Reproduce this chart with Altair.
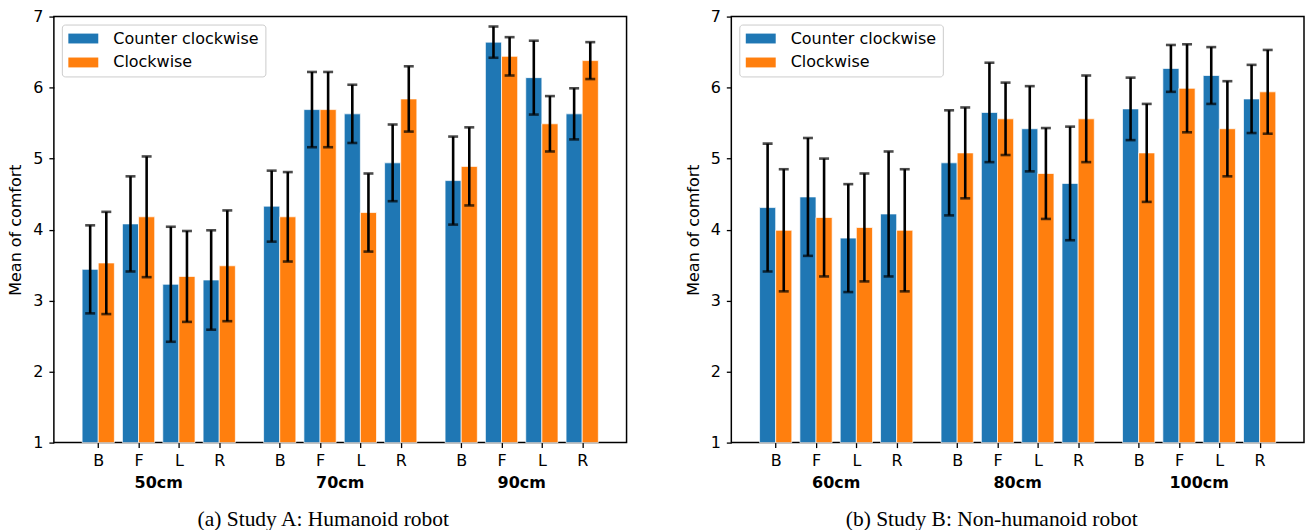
import json
import altair as alt
import pandas as pd

# ---------------- data ----------------
categories = ["B", "F", "L", "R"]
series = ["Counter clockwise", "Clockwise"]
colors = ["#1f77b4", "#ff7f0e"]

groups_a = ["50cm", "70cm", "90cm"]
mean_a_ccw = [3.44, 4.08, 3.23, 3.29, 4.33, 5.69, 5.63, 4.94, 4.69, 6.64, 6.14, 5.63]
err_a_ccw = [0.62, 0.67, 0.81, 0.70, 0.50, 0.53, 0.41, 0.54, 0.62, 0.22, 0.52, 0.36]
mean_a_cw = [3.53, 4.18, 3.34, 3.49, 4.18, 5.69, 4.24, 5.84, 4.89, 6.44, 5.49, 6.38]
err_a_cw = [0.72, 0.85, 0.64, 0.78, 0.63, 0.53, 0.55, 0.46, 0.55, 0.27, 0.39, 0.26]

groups_b = ["60cm", "80cm", "100cm"]
mean_b_ccw = [4.31, 4.46, 3.88, 4.22, 4.94, 5.65, 5.42, 4.65, 5.70, 6.27, 6.17, 5.84]
err_b_ccw = [0.90, 0.83, 0.76, 0.88, 0.74, 0.70, 0.60, 0.80, 0.44, 0.33, 0.40, 0.48]
mean_b_cw = [3.99, 4.17, 4.03, 3.99, 5.08, 5.56, 4.79, 5.56, 5.08, 5.99, 5.42, 5.94]
err_b_cw = [0.86, 0.83, 0.76, 0.86, 0.64, 0.51, 0.64, 0.61, 0.69, 0.62, 0.67, 0.59]

caption_a = "(a) Study A: Humanoid robot"
caption_b = "(b) Study B: Non-humanoid robot"
y_title = "Mean of comfort"

# ---------------- layout constants ----------------
GROUP_STEP = 4.5
BAR_W = 0.4
PLOT_W = 574
PLOT_H = 427
FONT = "DejaVu Sans"
FS = 16


def panel(groups, m_ccw, e_ccw, m_cw, e_cw, caption, cap_dx):
    rows = []
    for gi, g in enumerate(groups):
        for ci, c in enumerate(categories):
            k = gi * len(categories) + ci
            pos = gi * GROUP_STEP + ci
            for si, (m, e) in enumerate([(m_ccw[k], e_ccw[k]), (m_cw[k], e_cw[k])]):
                rows.append(dict(group=g, cat=c, series=series[si], pos=pos,
                                 off=si, mean=m, err=e))
    df = pd.DataFrame(rows)
    tick_vals = sorted(set(df["pos"]))
    lab_df = pd.DataFrame({
        "group": groups,
        "gx": [i * GROUP_STEP + (len(categories) - 1) / 2 for i in range(len(groups))],
    })
    label_expr = f"{json.dumps(categories)}[round(datum.value % {GROUP_STEP})]"

    xs = alt.Scale(domain=[tick_vals[0] - 1.1, tick_vals[-1] + 1.1], nice=False, zero=False)
    ys = alt.Scale(domain=[1, 7], nice=False, zero=False)
    xaxis = alt.Axis(values=tick_vals, labelExpr=label_expr, title=None,
                     labelPadding=5)
    yaxis = alt.Axis(values=[1, 2, 3, 4, 5, 6, 7], title=y_title, labelPadding=6,
                     titlePadding=9)

    base = alt.Chart(df).transform_calculate(
        xc=f"datum.pos + (datum.off - 0.5) * {BAR_W}",
    ).transform_calculate(
        x0=f"datum.xc - {BAR_W / 2}",
        x1=f"datum.xc + {BAR_W / 2}",
        lo="datum.mean - datum.err",
        hi="datum.mean + datum.err",
    )

    bars = base.mark_bar(stroke="white", strokeWidth=1, strokeOpacity=0.7).encode(
        x=alt.X("x0:Q", scale=xs, axis=xaxis),
        x2="x1:Q",
        y=alt.Y("mean:Q", scale=ys, axis=yaxis),
        y2=alt.datum(1),
        color=alt.Color(
            "series:N",
            scale=alt.Scale(domain=series, range=colors),
            legend=alt.Legend(
                title=None, orient="top-left", offset=8,
                symbolType="M-2,-0.66H2V0.66H-2Z", symbolSize=225,
                symbolOffset=7.5,
                symbolStrokeWidth=0, symbolOpacity=1,
                labelFont=FONT, labelFontSize=FS, labelColor="black",
                labelOffset=22, rowPadding=8, padding=6,
                fillColor="white", strokeColor="#cccccc", cornerRadius=3,
            ),
        ),
    )

    rules = base.mark_rule(color="black", strokeWidth=2.6).encode(
        x=alt.X("xc:Q", scale=xs, axis=xaxis),
        y=alt.Y("lo:Q", scale=ys, axis=yaxis),
        y2="hi:Q",
    )

    caps = base.transform_fold(["lo", "hi"], as_=["end", "yv"]).mark_tick(
        color="black", orient="horizontal", size=10, thickness=2.6
    ).encode(
        x=alt.X("xc:Q", scale=xs, axis=xaxis),
        y=alt.Y("yv:Q", scale=ys, axis=yaxis),
    )

    glabels = alt.Chart(lab_df).mark_text(
        font=FONT, fontSize=FS, fontWeight="bold", baseline="middle", color="black"
    ).encode(
        x=alt.X("gx:Q", scale=xs, axis=xaxis),
        y=alt.value(PLOT_H + 41),
        text="group:N",
    )

    return alt.layer(bars, rules, caps, glabels).properties(
        width=PLOT_W,
        height=PLOT_H,
        title=alt.TitleParams(caption, orient="bottom", font="Liberation Serif",
                              fontSize=21.5, fontWeight="normal", color="black",
                              anchor="middle", offset=18, dx=cap_dx),
    )


left = panel(groups_a, mean_a_ccw, err_a_ccw, mean_a_cw, err_a_cw, caption_a, -17)
right = panel(groups_b, mean_b_ccw, err_b_ccw, mean_b_cw, err_b_cw, caption_b, -26)

chart = alt.hconcat(left, right, spacing=57).resolve_scale(
    color="independent"
).resolve_legend(color="independent").properties(
    padding={"left": 7, "top": 7, "right": 0, "bottom": 0}
).configure_view(
    stroke="black", strokeWidth=1.5
).configure_axis(
    domain=False, grid=False,
    labelFont=FONT, labelFontSize=FS, labelColor="black",
    titleFont=FONT, titleFontSize=FS, titleFontWeight="normal", titleColor="black",
    tickColor="black", tickSize=5, tickWidth=1.3,
)

chart.save("out.html", embed_options={"renderer": "svg", "actions": False})
